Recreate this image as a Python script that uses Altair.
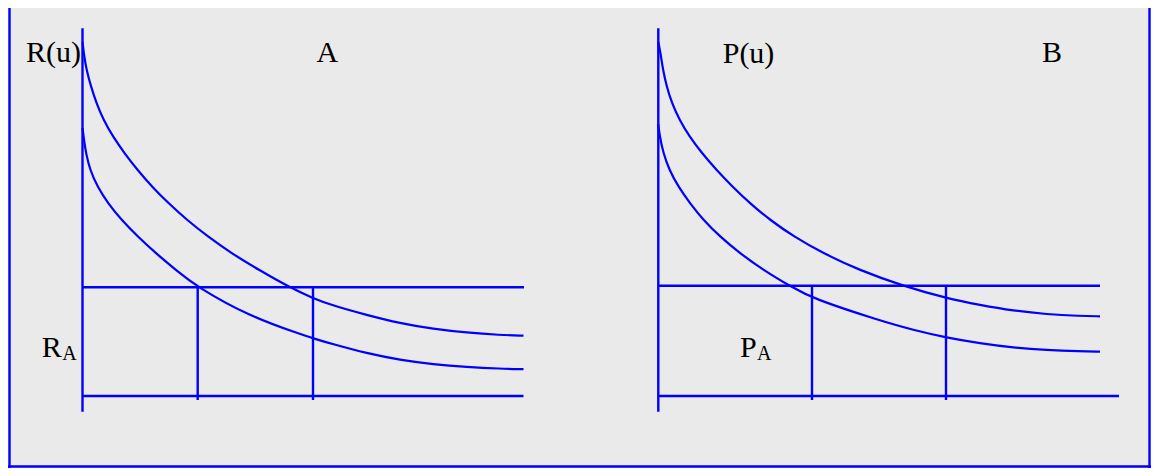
import altair as alt
import pandas as pd

# ---- values (page-pixel units; y grows downward) ----
# Panel A curves
a_upper_x = [82.5, 84, 86.5, 91, 96.5, 103.5, 113, 124.5, 137.5, 152, 168.5, 187, 208, 231.5, 259, 289,
             313, 333.3, 366.7, 400, 433.3, 466.7, 500, 523.5]
a_upper_y = [42, 55, 70, 86.7, 103.3, 120, 136.7, 153.3, 170, 186.7, 203.3, 220, 236.7, 253.3, 270, 287,
             298.3, 305.7, 315, 323.3, 329, 332.7, 335, 335.7]
a_lower_x = [82.5, 84, 86, 90, 97.5, 108, 121.5, 138, 156, 176, 197, 250, 300, 313, 333.3, 366.7, 400,
             433.3, 466.7, 500, 523.5]
a_lower_y = [128, 140, 153.3, 170, 186.7, 203.3, 220, 236.7, 253.3, 270, 287, 316.5, 334, 338.3, 344.3,
             353.3, 360, 364.3, 367, 368.7, 369.2]
# Panel B curves
b_upper_x = [658.3, 660.5, 663, 666.7, 672, 679.5, 689.5, 702, 716.5, 732.5, 750, 770, 794, 823, 859, 903,
             946.7, 980, 1013.3, 1046.7, 1080, 1100]
b_upper_y = [42, 53, 70, 86.7, 103.3, 120, 136.7, 153.3, 170, 186.7, 203.3, 220, 236.7, 253.3, 270, 286,
             298.3, 305, 310.7, 314.3, 316, 316.3]
b_lower_x = [658.3, 659.5, 663.3, 669.3, 678.3, 690, 703.3, 720, 740, 763.3, 791.7, 812, 880, 913.3, 946.7,
             980, 1013.3, 1046.7, 1080, 1100]
b_lower_y = [124, 135, 153.3, 170, 186.7, 203.3, 220, 236.7, 253.3, 270, 287, 298.3, 320.7, 330, 337.7,
             343.3, 347.7, 350, 351.3, 351.7]

# Horizontal segments: start x, end x, y
h_x = [82.5, 82.5, 658.3, 658.3, 8]
h_x2 = [524, 523.5, 1100, 1119, 1151]
h_y = [287.3, 396, 285.7, 396, 466.5]
# Vertical segments: x, top y, bottom y
v_x = [82.5, 197.7, 313, 658.3, 812, 946, 9.5, 1149.5]
v_y = [28.3, 287.3, 287.3, 28.3, 285.7, 285.7, 8, 8]
v_y2 = [411.7, 400, 400, 411.7, 400, 400, 468, 468]

# Labels (left edge x, baseline y)
lab_text = ["R(u)", "A", "P(u)", "B", "R", "P"]
lab_x = [26, 316.5, 722.7, 1042, 41.7, 740]
lab_y = [62, 62, 62.7, 62, 356.7, 356.7]
sub_text = ["A", "A"]
sub_x = [62.3, 757]
sub_y = [360, 360]

# ---- tables ----
rows = []
for name, xs_, ys_ in [("A upper", a_upper_x, a_upper_y), ("A lower", a_lower_x, a_lower_y),
                       ("B upper", b_upper_x, b_upper_y), ("B lower", b_lower_x, b_lower_y)]:
    for i, (x, y) in enumerate(zip(xs_, ys_)):
        rows.append({"series": name, "i": i, "x": x, "y": y})
curves = pd.DataFrame(rows)
hseg = pd.DataFrame({"x": h_x, "x2": h_x2, "y": h_y})
vseg = pd.DataFrame({"x": v_x, "y": v_y, "y2": v_y2})
labels = pd.DataFrame({"t": lab_text, "x": lab_x, "y": lab_y})
subs = pd.DataFrame({"t": sub_text, "x": sub_x, "y": sub_y})

BLUE = "#0000ff"
xs = alt.Scale(domain=[8, 1151], nice=False, zero=False)
ys = alt.Scale(domain=[8, 468], nice=False, zero=False, reverse=True)


def X(f="x"):
    return alt.X(f"{f}:Q", scale=xs, axis=None)


def Y(f="y"):
    return alt.Y(f"{f}:Q", scale=ys, axis=None)


lines = alt.Chart(curves).mark_line(interpolate="basis", color=BLUE, strokeWidth=2.2, clip=False).encode(
    x=X(), y=Y(), detail="series:N", order="i:Q"
)
hrules = alt.Chart(hseg).mark_rule(color=BLUE, strokeWidth=2.4, clip=False).encode(
    x=X(), x2="x2:Q", y=Y()
)
vrules = alt.Chart(vseg).mark_rule(color=BLUE, strokeWidth=2.4, clip=False).encode(
    x=X(), y=Y(), y2="y2:Q"
)
txt = alt.Chart(labels).mark_text(align="left", baseline="alphabetic", font="Liberation Serif",
                                  fontSize=30, color="black").encode(x=X(), y=Y(), text="t:N")
stxt = alt.Chart(subs).mark_text(align="left", baseline="alphabetic", font="Liberation Serif",
                                 fontSize=20, color="black").encode(x=X(), y=Y(), text="t:N")

chart = alt.layer(hrules, vrules, lines, txt, stxt).properties(
    width=1143, height=460, padding=0, autosize="none", background="#eaeaea"
).configure_view(stroke=None)

chart.save("out.html", embed_options={"renderer": "svg", "actions": False})
